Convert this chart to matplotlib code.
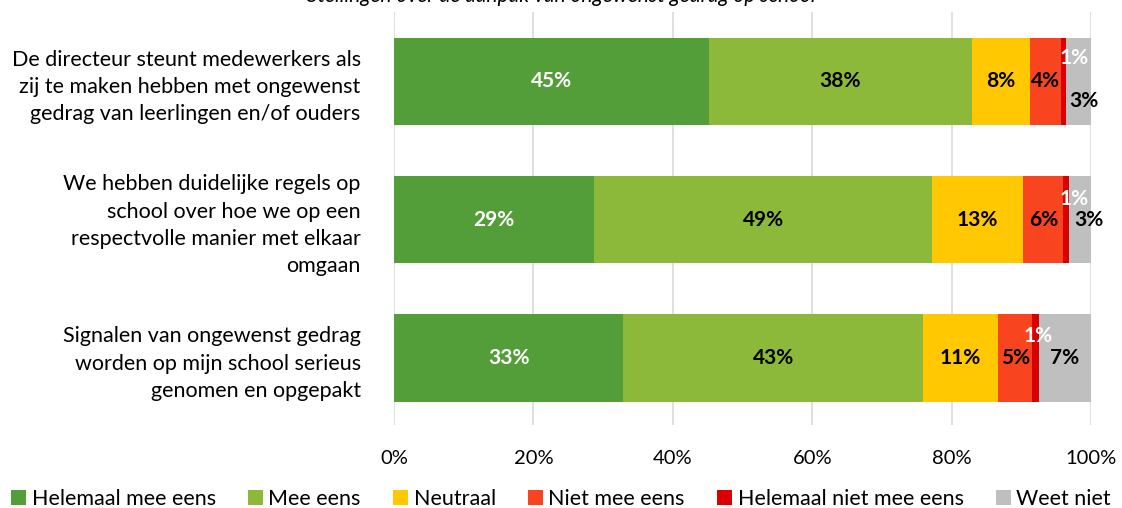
import numpy as np
import matplotlib.pyplot as plt

plt.rcParams['font.family'] = ['Lato', 'DejaVu Sans']

categories = ['De directeur steunt medewerkers als\nzij te maken hebben met ongewenst\ngedrag van leerlingen en/of ouders',
              'We hebben duidelijke regels op\nschool over hoe we op een\nrespectvolle manier met elkaar\nomgaan',
              'Signalen van ongewenst gedrag\nworden op mijn school serieus\ngenomen en opgepakt']
series = ['Helemaal mee eens', 'Mee eens', 'Neutraal', 'Niet mee eens',
          'Helemaal niet mee eens', 'Weet niet']
helemaal_mee = [45.2, 28.7, 32.9]
mee = [37.7, 48.5, 43.0]
neutraal = [8.3, 13.1, 10.8]
niet_mee = [4.5, 5.7, 4.9]
helemaal_niet = [0.7, 0.9, 0.9]
weet_niet = [3.6, 3.1, 7.5]
labels = [['45%', '29%', '33%'], ['38%', '49%', '43%'], ['8%', '13%', '11%'],
          ['4%', '6%', '5%'], ['1%', '1%', '1%'], ['3%', '3%', '7%']]
colors = ['#549E39', '#8CB93A', '#FFC800', '#F8441F', '#D80000', '#BFBFBF']
title = 'Stellingen over de aanpak van ongewenst gedrag op school'

data = np.array([helemaal_mee, mee, neutraal, niet_mee, helemaal_niet, weet_niet])

# small-label nudges (x in %, y in bar units) for the tiny segments
one_dx = [1.6, 1.2, 0.4]
one_dy = [-0.17, -0.15, -0.16]
weet_dx = [0.8, 1.2, 0.0]
weet_dy = [0.14, 0.0, 0.0]

fig = plt.figure(figsize=(11.22, 5.08), dpi=100)
ax = fig.add_axes([394/1122, 1-425/508, (1091-394)/1122, (425-12)/508])
y = np.arange(3)
left = np.zeros(3)
for i in range(6):
    ax.barh(y, data[i], left=left, height=0.63, color=colors[i], label=series[i], zorder=3)
    for j in range(3):
        cx = left[j] + data[i][j]/2
        cy = y[j]
        col = 'black'
        if i == 0:
            col = 'white'
        elif i == 4:
            col = 'white'
            cx += one_dx[j]
            cy += one_dy[j]
        elif i == 5:
            cx += weet_dx[j]
            cy += weet_dy[j]
        ax.text(cx, cy, labels[i][j], ha='center', va='center', color=col,
                fontsize=15, fontweight='bold', zorder=4)
    left += data[i]

ax.set_xlim(0, 100)
ax.set_ylim(2.484, -0.5)
ax.set_xticks(np.arange(0, 101, 20))
ax.set_xticklabels([f'{v}%' for v in range(0, 101, 20)], fontsize=14.5)
ax.tick_params(axis='x', length=0, pad=18)
ax.set_yticks(y)
ax.set_yticklabels(categories, fontsize=15.5, linespacing=1.45)
ax.tick_params(axis='y', length=0, pad=24)
ax.grid(axis='x', color='#D9D9D9', linewidth=1.2, zorder=0)
for s in ax.spines.values():
    s.set_visible(False)

fig.text(0.5, 1 - 2/508, title, ha='center', va='baseline', fontsize=15, style='italic')

fig.legend(loc='lower center', bbox_to_anchor=(0.5, -0.04), ncol=6, frameon=False,
           fontsize=15.5, handlelength=0.7, handleheight=0.7, handletextpad=0.25,
           columnspacing=1.5)

fig.savefig('out.png', dpi=100)
